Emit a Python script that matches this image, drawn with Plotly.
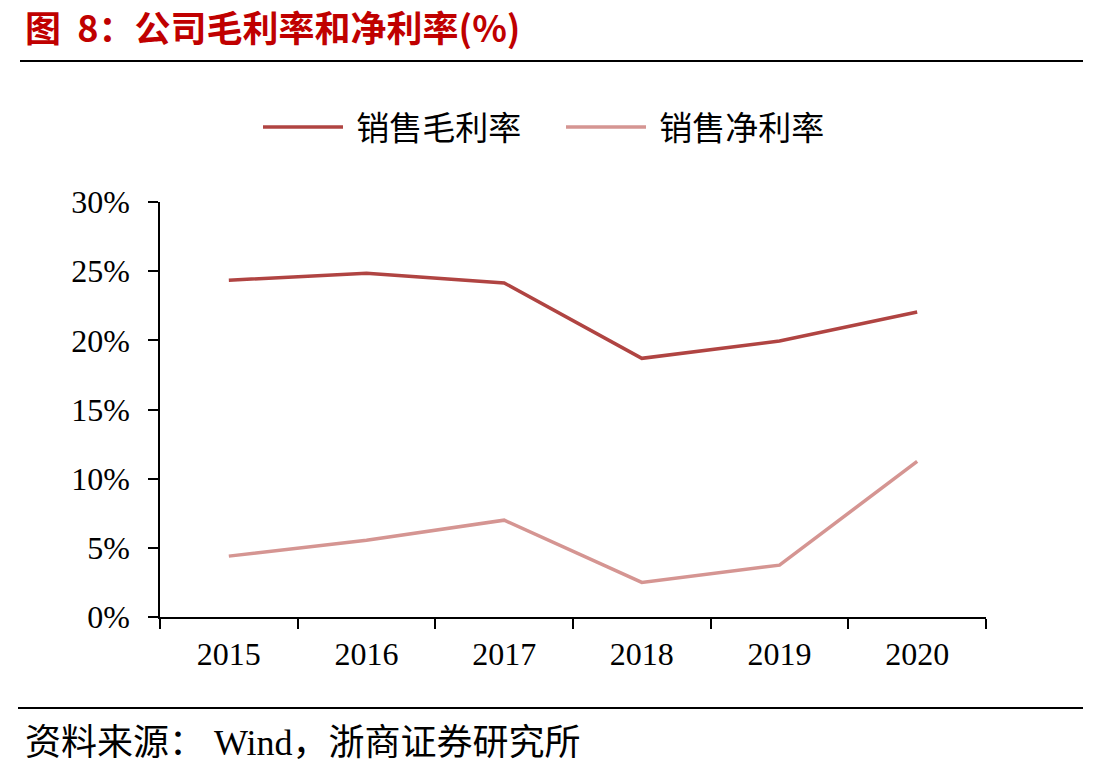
import plotly.graph_objects as go

years = ["2015", "2016", "2017", "2018", "2019", "2020"]
gross_margin = [24.35, 24.85, 24.15, 18.7, 19.95, 22.05]
net_margin = [4.4, 5.55, 7.0, 2.5, 3.75, 11.25]
series_names = ["销售毛利率", "销售净利率"]
y_ticks = [0, 5, 10, 15, 20, 25, 30]
y_tick_labels = [f"{v}%" for v in y_ticks]

W, H = 1113, 775
L, R, T, B = 160, 986, 202, 617
pw, ph = R - L, B - T

def px(x):
    return (x - L) / pw

def py(y):
    return (B - y) / ph

serif = "Liberation Serif, Times New Roman, Noto Sans CJK SC, serif"

fig = go.Figure()
fig.add_trace(go.Scatter(x=years, y=gross_margin, mode="lines", name=" " + series_names[0],
                         line=dict(color="#B04442", width=3.5)))
fig.add_trace(go.Scatter(x=years, y=net_margin, mode="lines", name=" " + series_names[1],
                         line=dict(color="#D59592", width=3.5)))

fig.update_layout(
    width=W, height=H,
    margin=dict(l=L, r=W - R, t=T, b=H - B, pad=0),
    paper_bgcolor="white", plot_bgcolor="white",
    showlegend=True,
    legend=dict(orientation="h", x=px(258), y=py(127), xanchor="left", yanchor="middle",
                font=dict(family=serif, size=33, color="black"),
                itemwidth=80, entrywidth=208, entrywidthmode="pixels",
                traceorder="normal", bgcolor="rgba(0,0,0,0)"),
    xaxis=dict(type="category", range=[-0.5, 5.5], tickson="boundaries", ticks="outside",
               ticklen=10, tickwidth=1.5, tickcolor="black", showline=True,
               linecolor="black", linewidth=1.5, showgrid=False, zeroline=False,
               ticklabelstandoff=8,
               tickfont=dict(family=serif, size=32, color="black")),
    yaxis=dict(range=[0, 30], tickvals=y_ticks, ticktext=y_tick_labels, ticks="outside",
               ticklen=10, tickwidth=1.5, tickcolor="black", showline=True,
               linecolor="black", linewidth=1.5, showgrid=False, zeroline=False,
               ticklabelstandoff=12,
               tickfont=dict(family=serif, size=32, color="black")),
)

fig.add_annotation(text="<b>图  8：公司毛利率和净利率(%)</b>", xref="paper", yref="paper",
                   x=px(23), y=py(26), xanchor="left", yanchor="middle", showarrow=False,
                   font=dict(family="Noto Sans CJK SC", size=36, color="#C00000"))
fig.add_shape(type="line", xref="paper", yref="paper", x0=px(20), x1=px(1083),
              y0=py(61), y1=py(61), line=dict(color="black", width=2))
fig.add_shape(type="line", xref="paper", yref="paper", x0=px(18), x1=px(1083),
              y0=py(708), y1=py(708), line=dict(color="black", width=2))
fig.add_annotation(text="资料来源： Wind，浙商证券研究所", xref="paper", yref="paper",
                   x=px(23), y=py(743), xanchor="left", yanchor="middle", showarrow=False,
                   font=dict(family=serif, size=36, color="black"))

fig.write_html("out.html")
